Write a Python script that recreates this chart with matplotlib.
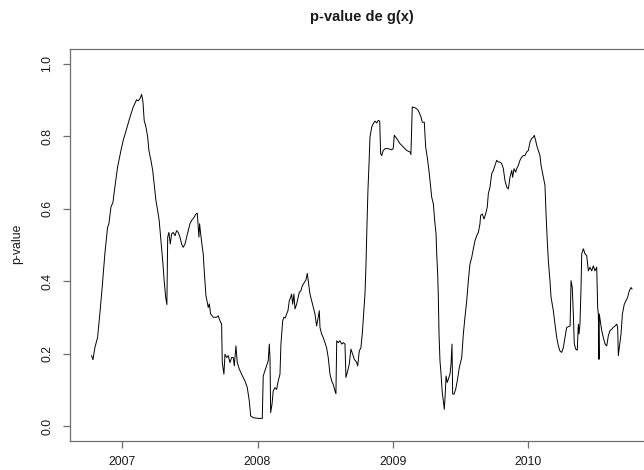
import matplotlib
matplotlib.use("Agg")
import matplotlib.pyplot as plt

plt.rcParams["font.family"] = ["Liberation Sans", "DejaVu Sans"]

# time (decimal years) and rolling p-value of g(x)
years = [
    2006.772, 2006.782, 2006.796, 2006.816, 2006.833, 2006.850, 2006.870, 2006.890,
    2006.900, 2006.915, 2006.930, 2006.944, 2006.964, 2006.989, 2007.006, 2007.031,
    2007.056, 2007.080, 2007.105, 2007.117, 2007.130, 2007.142, 2007.152, 2007.161,
    2007.174, 2007.187, 2007.196, 2007.211, 2007.224, 2007.235, 2007.248, 2007.261,
    2007.272, 2007.285, 2007.298, 2007.309, 2007.320, 2007.329, 2007.335, 2007.344,
    2007.354, 2007.364, 2007.376, 2007.389, 2007.401, 2007.413, 2007.426, 2007.438,
    2007.450, 2007.463, 2007.475, 2007.487, 2007.500, 2007.512, 2007.531, 2007.544,
    2007.554, 2007.561, 2007.566, 2007.571, 2007.579, 2007.591, 2007.598, 2007.605,
    2007.618, 2007.635, 2007.643, 2007.653, 2007.672, 2007.697, 2007.709, 2007.722,
    2007.734, 2007.739, 2007.751, 2007.759, 2007.771, 2007.783, 2007.796, 2007.808,
    2007.820, 2007.828, 2007.840, 2007.850, 2007.865, 2007.882, 2007.907, 2007.924,
    2007.939, 2007.949, 2007.968, 2008.005, 2008.035, 2008.038, 2008.042, 2008.062,
    2008.079, 2008.087, 2008.092, 2008.097, 2008.107, 2008.116, 2008.129, 2008.141,
    2008.153, 2008.166, 2008.173, 2008.186, 2008.195, 2008.205, 2008.215, 2008.225,
    2008.235, 2008.245, 2008.252, 2008.260, 2008.269, 2008.277, 2008.289, 2008.301,
    2008.309, 2008.321, 2008.331, 2008.343, 2008.358, 2008.368, 2008.375, 2008.388,
    2008.400, 2008.412, 2008.425, 2008.437, 2008.449, 2008.457, 2008.462, 2008.474,
    2008.486, 2008.499, 2008.511, 2008.523, 2008.536, 2008.549, 2008.560, 2008.573,
    2008.580, 2008.586, 2008.597, 2008.610, 2008.623, 2008.634, 2008.647, 2008.654,
    2008.667, 2008.679, 2008.691, 2008.704, 2008.716, 2008.734, 2008.741, 2008.753,
    2008.765, 2008.775, 2008.785, 2008.795, 2008.802, 2008.810, 2008.817, 2008.825,
    2008.832, 2008.845, 2008.856, 2008.869, 2008.882, 2008.893, 2008.904, 2008.911,
    2008.919, 2008.930, 2008.943, 2008.968, 2008.993, 2009.004, 2009.012, 2009.030,
    2009.054, 2009.078, 2009.104, 2009.128, 2009.135, 2009.145, 2009.165, 2009.185,
    2009.195, 2009.210, 2009.219, 2009.234, 2009.244, 2009.259, 2009.271, 2009.289,
    2009.301, 2009.313, 2009.321, 2009.326, 2009.333, 2009.338, 2009.343, 2009.350,
    2009.358, 2009.367, 2009.375, 2009.382, 2009.389, 2009.395, 2009.404, 2009.412,
    2009.424, 2009.432, 2009.439, 2009.444, 2009.454, 2009.466, 2009.478, 2009.493,
    2009.511, 2009.523, 2009.535, 2009.548, 2009.560, 2009.572, 2009.585, 2009.597,
    2009.609, 2009.622, 2009.634, 2009.646, 2009.651, 2009.663, 2009.676, 2009.688,
    2009.700, 2009.708, 2009.720, 2009.733, 2009.745, 2009.757, 2009.770, 2009.782,
    2009.794, 2009.807, 2009.819, 2009.831, 2009.844, 2009.856, 2009.868, 2009.881,
    2009.888, 2009.898, 2009.910, 2009.918, 2009.930, 2009.942, 2009.955, 2009.967,
    2009.979, 2009.992, 2010.004, 2010.016, 2010.029, 2010.041, 2010.048, 2010.061,
    2010.066, 2010.078, 2010.090, 2010.098, 2010.115, 2010.127, 2010.135, 2010.144,
    2010.152, 2010.164, 2010.172, 2010.189, 2010.201, 2010.214, 2010.226, 2010.238,
    2010.251, 2010.263, 2010.275, 2010.288, 2010.300, 2010.313, 2010.320, 2010.329,
    2010.337, 2010.344, 2010.355, 2010.366, 2010.374, 2010.379, 2010.386, 2010.394,
    2010.399, 2010.411, 2010.423, 2010.436, 2010.448, 2010.460, 2010.473, 2010.485,
    2010.497, 2010.510, 2010.517, 2010.522, 2010.527, 2010.529, 2010.540, 2010.547,
    2010.559, 2010.572, 2010.584, 2010.596, 2010.608, 2010.621, 2010.633, 2010.646,
    2010.658, 2010.665, 2010.670, 2010.677, 2010.690, 2010.700, 2010.714, 2010.727,
    2010.739, 2010.751, 2010.764, 2010.771,
]

pvalues = [
    0.194, 0.183, 0.216, 0.244, 0.310, 0.382, 0.475, 0.548,
    0.558, 0.604, 0.617, 0.659, 0.714, 0.760, 0.788, 0.820,
    0.852, 0.880, 0.900, 0.897, 0.903, 0.915, 0.894, 0.843,
    0.825, 0.797, 0.760, 0.733, 0.705, 0.668, 0.622, 0.594,
    0.567, 0.511, 0.456, 0.401, 0.355, 0.335, 0.521, 0.534,
    0.502, 0.530, 0.534, 0.525, 0.539, 0.534, 0.521, 0.502,
    0.493, 0.502, 0.521, 0.539, 0.558, 0.567, 0.576, 0.585,
    0.587, 0.548, 0.521, 0.558, 0.530, 0.493, 0.475, 0.430,
    0.360, 0.327, 0.337, 0.309, 0.300, 0.300, 0.304, 0.290,
    0.281, 0.175, 0.143, 0.198, 0.189, 0.194, 0.175, 0.189,
    0.189, 0.166, 0.221, 0.175, 0.157, 0.143, 0.124, 0.106,
    0.069, 0.028, 0.023, 0.021, 0.021, 0.069, 0.138, 0.161,
    0.180, 0.226, 0.189, 0.037, 0.060, 0.097, 0.106, 0.101,
    0.124, 0.143, 0.226, 0.290, 0.300, 0.298, 0.309, 0.318,
    0.346, 0.355, 0.364, 0.336, 0.364, 0.323, 0.336, 0.355,
    0.369, 0.373, 0.387, 0.394, 0.403, 0.421, 0.401, 0.364,
    0.346, 0.327, 0.309, 0.276, 0.300, 0.318, 0.272, 0.254,
    0.244, 0.230, 0.216, 0.189, 0.143, 0.124, 0.115, 0.097,
    0.089, 0.235, 0.230, 0.235, 0.226, 0.230, 0.226, 0.134,
    0.152, 0.171, 0.212, 0.198, 0.184, 0.175, 0.166, 0.207,
    0.216, 0.254, 0.309, 0.364, 0.438, 0.558, 0.650, 0.724,
    0.797, 0.825, 0.834, 0.841, 0.836, 0.843, 0.841, 0.751,
    0.746, 0.760, 0.765, 0.765, 0.762, 0.765, 0.802, 0.793,
    0.779, 0.770, 0.760, 0.756, 0.749, 0.880, 0.878, 0.873,
    0.866, 0.852, 0.838, 0.838, 0.770, 0.733, 0.696, 0.631,
    0.613, 0.558, 0.530, 0.475, 0.419, 0.355, 0.254, 0.180,
    0.143, 0.092, 0.069, 0.046, 0.088, 0.138, 0.120, 0.129,
    0.143, 0.171, 0.226, 0.088, 0.088, 0.101, 0.124, 0.161,
    0.189, 0.254, 0.300, 0.346, 0.401, 0.447, 0.465, 0.489,
    0.511, 0.525, 0.534, 0.558, 0.581, 0.585, 0.571, 0.585,
    0.604, 0.641, 0.659, 0.696, 0.705, 0.719, 0.733, 0.728,
    0.728, 0.724, 0.710, 0.677, 0.659, 0.654, 0.686, 0.705,
    0.686, 0.710, 0.700, 0.710, 0.719, 0.733, 0.742, 0.746,
    0.746, 0.756, 0.760, 0.783, 0.793, 0.797, 0.802, 0.783,
    0.774, 0.760, 0.746, 0.719, 0.686, 0.664, 0.585, 0.511,
    0.456, 0.401, 0.355, 0.318, 0.281, 0.244, 0.221, 0.207,
    0.203, 0.216, 0.244, 0.272, 0.274, 0.276, 0.401, 0.382,
    0.309, 0.226, 0.212, 0.209, 0.281, 0.254, 0.281, 0.382,
    0.475, 0.489, 0.475, 0.470, 0.428, 0.438, 0.428, 0.442,
    0.428, 0.438, 0.327, 0.309, 0.184, 0.309, 0.281, 0.263,
    0.244, 0.226, 0.221, 0.249, 0.263, 0.267, 0.272, 0.276,
    0.281, 0.272, 0.194, 0.216, 0.254, 0.309, 0.336, 0.346,
    0.355, 0.373, 0.382, 0.378,
]

year_ticks = [2007, 2008, 2009, 2010]
p_ticks = [0.0, 0.2, 0.4, 0.6, 0.8, 1.0]

W, H = 644, 470
fig = plt.figure(figsize=(W / 100, H / 100), dpi=100)
fig.patch.set_facecolor("white")

# plotting region (pixel box), extends slightly past the right edge of the canvas
left, right, top, bottom = 70.0, 653.6, 49.0, 440.5
ax = fig.add_axes([left / W, (H - bottom) / H, (right - left) / W, (bottom - top) / H])

ax.plot(years, pvalues, color="black", linewidth=0.7)

ax.margins(x=0.04)
ax.set_ylim(-0.04, 1.04)

frame_color = "#6e6e6e"
text_color = "#1a1a1a"
for sp in ax.spines.values():
    sp.set_color(frame_color)
    sp.set_linewidth(0.9)

ax.set_xticks(year_ticks)
ax.set_xticklabels([str(y) for y in year_ticks])
ax.set_yticks(p_ticks)
ax.set_yticklabels([f"{v:.1f}" for v in p_ticks])

ax.tick_params(axis="both", direction="out", length=5, width=0.9,
               color=frame_color, labelcolor=text_color, labelsize=8.8)
ax.tick_params(axis="x", pad=6)
ax.tick_params(axis="y", pad=7)
for lab in ax.get_yticklabels():
    lab.set_rotation(90)
    lab.set_va("center")
    lab.set_ha("right")

fig.text(17 / W, 1 - 244 / H, "p-value", rotation=90, ha="center", va="center",
         fontsize=8.8, color=text_color)
fig.text(362 / W, 1 - 17 / H, "p-value de g(x)", ha="center", va="center",
         fontsize=10.5, fontweight="bold", color=text_color)

fig.savefig("out.png", dpi=100, facecolor="white")
